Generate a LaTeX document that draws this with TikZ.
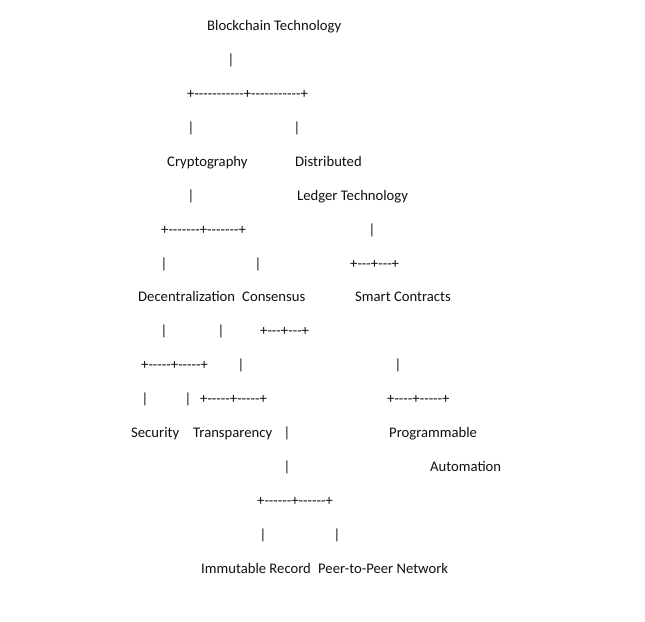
\documentclass[tikz,border=0pt]{standalone}
\usepackage{fontspec}
\setmainfont{Carlito}[Ligatures=TeXOff]
\usepackage{tikz}
\definecolor{metin}{HTML}{111111}

\begin{document}
\begin{tikzpicture}[x=1pt,y=-1pt,
  satir/.style={anchor=base west,inner sep=0pt,font=\fontsize{14.67}{17}\selectfont,text=metin},
  dal/.style={anchor=base,inner sep=0pt,font=\fontsize{14.67}{17}\selectfont,text=metin}]
\useasboundingbox (0,0) rectangle (645,621);
\fill[white] (0,0) rectangle (645,621);
% kok
\node[satir] (kok) at (207,30) {Blockchain Technology};
\node[dal] (d1) at (231,64) {|};
\node[satir] (c1) at (187,98) {+-----------+-----------+};
\node[dal] (d2) at (191,132) {|};
\node[dal] (d3) at (297,132) {|};
% ikinci seviye
\node[satir] (kripto) at (167,166) {Cryptography};
\node[satir] (dagitik) at (295,166) {Distributed};
\node[dal] (d4) at (191,200) {|};
\node[satir] (defter) at (297,200) {Ledger Technology};
\node[satir] (c2) at (161,234) {+-------+-------+};
\node[dal] (d5) at (372,234) {|};
\node[dal] (d6) at (164,268) {|};
\node[dal] (d7) at (258,268) {|};
\node[satir] (c3) at (350,268) {+---+---+};
% ucuncu seviye
\node[satir] (merkez) at (138,301) {Decentralization};
\node[satir] (uzlasi) at (242,301) {Consensus};
\node[satir] (akilli) at (355,301) {Smart Contracts};
\node[dal] (d8) at (164,335) {|};
\node[dal] (d9) at (221,335) {|};
\node[satir] (c4) at (260,335) {+---+---+};
\node[satir] (c5) at (141,369) {+-----+-----+};
\node[dal] (d10) at (241,369) {|};
\node[dal] (d11) at (398,369) {|};
\node[dal] (d12) at (145,403) {|};
\node[dal] (d13) at (188,403) {|};
\node[satir] (c6) at (200,403) {+-----+-----+};
\node[satir] (c7) at (387,403) {+----+-----+};
% yapraklar
\node[satir] (guvenlik) at (131,437) {Security};
\node[satir] (seffaf) at (193,437) {Transparency};
\node[dal] (d14) at (287,437) {|};
\node[satir] (prog) at (389,437) {Programmable};
\node[dal] (d15) at (287,471) {|};
\node[satir] (otomasyon) at (430,471) {Automation};
\node[satir] (c8) at (257,505) {+------+------+};
\node[dal] (d16) at (263,539) {|};
\node[dal] (d17) at (337,539) {|};
\node[satir] (kayit) at (201,573) {Immutable Record};
\node[satir] (ag) at (318,573) {Peer-to-Peer Network};
\end{tikzpicture}
\end{document}
